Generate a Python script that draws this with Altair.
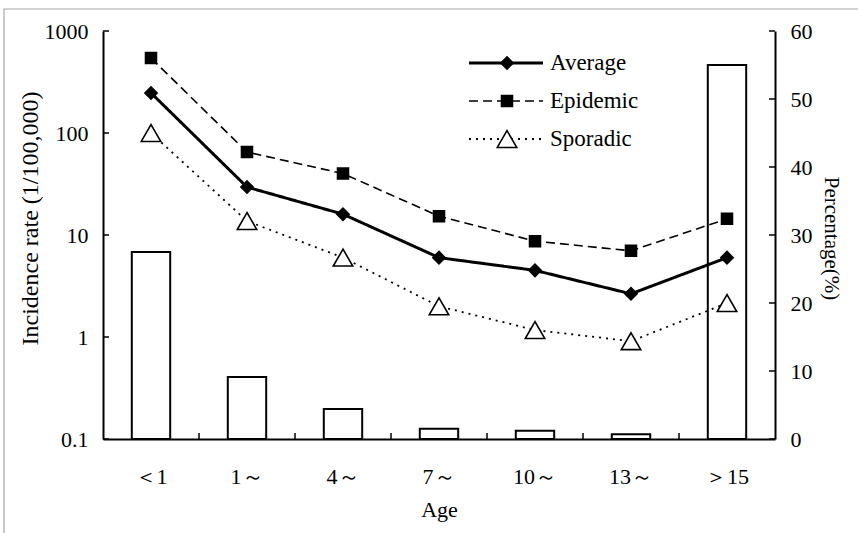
import altair as alt
import pandas as pd

ages = ["＜1", "1～", "4～", "7～", "10～", "13～", "＞15"]
percentage = [27.5, 9.1, 4.4, 1.5, 1.2, 0.7, 55.0]
average = [247, 29.5, 16, 6.0, 4.5, 2.65, 6.0]
epidemic = [543, 65, 40, 15.3, 8.7, 7.0, 14.4]
sporadic = [100, 13.7, 6.0, 2.0, 1.17, 0.91, 2.15]
left_ticks = [0.1, 1, 10, 100, 1000]
right_ticks = [0, 10, 20, 30, 40, 50, 60]

FONT = "Liberation Serif"
W, H = 672, 408

df = pd.DataFrame({"age": ages, "pct": percentage, "Average": average,
                   "Epidemic": epidemic, "Sporadic": sporadic})
long = df.melt(id_vars=["age"], value_vars=["Average", "Epidemic", "Sporadic"],
               var_name="series", value_name="rate")

xscale = alt.Scale(type="band", domain=ages, paddingInner=0, paddingOuter=0)
xaxis = alt.Axis(title="Age", ticks=False, domainColor="black", domainWidth=2,
                 labelFont=FONT, titleFont=FONT,
                 labelFontSize=22, labelPadding=27, labelAngle=0, labelColor="black",
                 titleFontSize=22, titleFontWeight="normal", titleColor="black",
                 titleY=70, titleBaseline="middle")


def xenc(**kw):
    return alt.X("age:N", sort=ages, scale=xscale, axis=xaxis, **kw)


logscale = alt.Scale(type="log", domain=[0.1, 1000])
pctscale = alt.Scale(domain=[0, 60])

styles = {
    "Average": dict(dash=[1, 0], width=3, shape="diamond", size=150, fill="black"),
    "Epidemic": dict(dash=[9, 5], width=1.6, shape="square", size=120, fill="black"),
    "Sporadic": dict(dash=[2, 5], width=1.8, shape="triangle-up", size=380, fill="white"),
}
one = alt.Data(values=[{"a": 1}])

layers = []
layers.append(alt.Chart(one).mark_rect(filled=False, stroke="#a8a8a8", strokeWidth=1.2).encode(
    x=alt.value(-99), x2=alt.value(900), y=alt.value(-22), y2=alt.value(700)))

layers.append(alt.Chart(df).mark_bar(fill="white", stroke="black", strokeWidth=2,
                                     width=alt.RelativeBandSize(0.4)).encode(
    x=xenc(),
    y=alt.Y("pct:Q", scale=pctscale,
            axis=alt.Axis(orient="right", title="Percentage(%)", values=right_ticks, ticks=False,
                          grid=False, domainColor="black", domainWidth=2,
                          labelFont=FONT, titleFont=FONT,
                          labelFontSize=22, labelPadding=15, labelColor="black",
                          titleFontSize=21, titleFontWeight="normal", titleColor="black",
                          titleAngle=90, titleX=55, titleY=207, titleAlign="center",
                          titleBaseline="middle"))))
layers.append(alt.Chart(pd.DataFrame({"v": right_ticks})).mark_rule(color="black", strokeWidth=1.5).encode(
    x=alt.value(W - 6), x2=alt.value(W), y=alt.Y("v:Q", scale=pctscale, axis=None)))
layers.append(alt.Chart(pd.DataFrame({"age": ages[1:]})).mark_rule(color="black", strokeWidth=1.5).encode(
    x=xenc(bandPosition=0),
    y=alt.value(H - 6), y2=alt.value(H)))

layers.append(alt.Chart(pd.DataFrame({"v": left_ticks})).mark_rule(color="black", strokeWidth=1.5).encode(
    x=alt.value(0), x2=alt.value(6),
    y=alt.Y("v:Q", scale=logscale,
            axis=alt.Axis(orient="left", title="Incidence rate (1/100,000)", values=left_ticks,
                          format="~g", ticks=False, grid=False, domainColor="black", domainWidth=2,
                          labelFont=FONT, titleFont=FONT,
                          labelFontSize=22, labelPadding=15, labelColor="black",
                          titleFontSize=24, titleFontWeight="normal", titleColor="black",
                          titleAngle=-90, titleX=-73, titleY=187, titleAlign="center",
                          titleBaseline="middle"))))

for name in ["Epidemic", "Average", "Sporadic"]:
    s = styles[name]
    d = long[long.series == name]
    layers.append(alt.Chart(d).mark_line(color="black", strokeWidth=s["width"], strokeDash=s["dash"]).encode(
        x=xenc(), y=alt.Y("rate:Q", scale=logscale, axis=None)))
for name in ["Epidemic", "Average", "Sporadic"]:
    s = styles[name]
    d = long[long.series == name]
    layers.append(alt.Chart(d).mark_point(shape=s["shape"], size=s["size"], filled=False, fill=s["fill"],
                                          stroke="black", strokeWidth=1.6, opacity=1).encode(
        x=xenc(), y=alt.Y("rate:Q", scale=logscale, axis=None)))

leg_rows = [("Average", 32), ("Epidemic", 70), ("Sporadic", 108)]
for name, yy in leg_rows:
    s = styles[name]
    layers.append(alt.Chart(one).mark_rule(color="black", strokeWidth=s["width"], strokeDash=s["dash"]).encode(
        x=alt.value(366), x2=alt.value(440), y=alt.value(yy)))
    layers.append(alt.Chart(one).mark_point(shape=s["shape"], size=s["size"], filled=False, fill=s["fill"],
                                            stroke="black", strokeWidth=1.6, opacity=1).encode(
        x=alt.value(404), y=alt.value(yy)))
    layers.append(alt.Chart(one).mark_text(text=name, font=FONT, fontSize=23, align="left",
                                           baseline="middle", color="black").encode(
        x=alt.value(447), y=alt.value(yy)))

chart = alt.layer(*layers).resolve_scale(y="independent").properties(
    width=W, height=H,
    autosize=alt.AutoSizeParams(type="none"),
    padding={"left": 103, "top": 31, "right": 83, "bottom": 94},
    background="white",
).configure_view(stroke=None).configure_axis(labelFont=FONT, titleFont=FONT)

chart.save("out.html", embed_options={"renderer": "svg", "actions": False})
